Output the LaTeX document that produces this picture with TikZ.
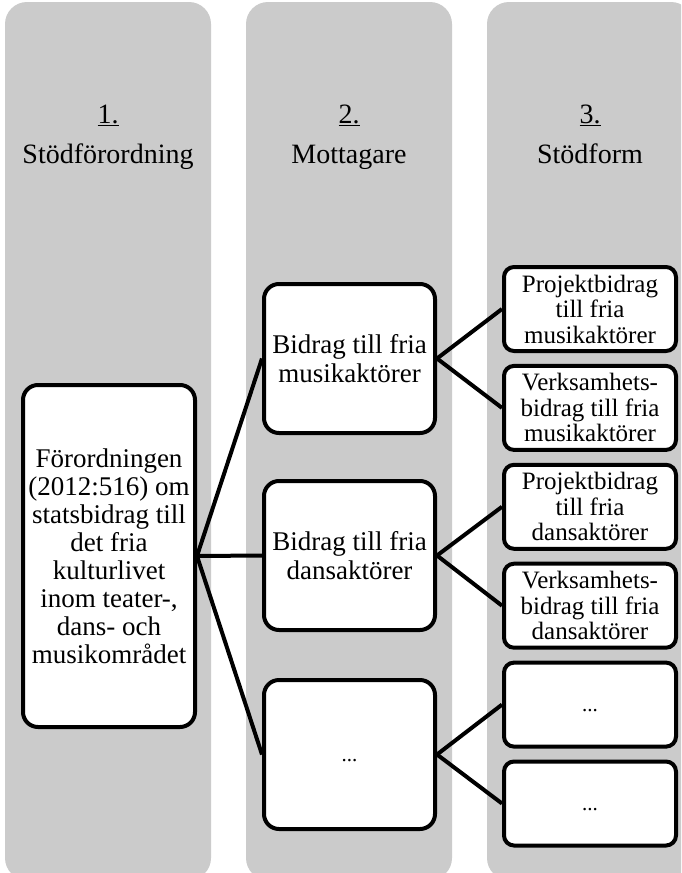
\documentclass[tikz,border=0pt]{standalone}
\usepackage{fontspec}
\setmainfont{Liberation Serif}
\definecolor{colgray}{RGB}{203,203,203}
\newcommand{\lowdots}{\raisebox{-7pt}[0pt][0pt]{\fontsize{21}{21}\selectfont ...}}
\begin{document}
\begin{tikzpicture}[x=1pt,y=-1pt,
  colbg/.style={fill=colgray, rounded corners=22pt},
  head/.style={anchor=base, inner sep=0pt, font=\fontsize{28}{30}\selectfont},
  bigbox/.style={draw, line width=4pt, fill=white, rounded corners=15pt, align=center, inner sep=0pt, font=\fontsize{27}{28}\selectfont},
  midbox/.style={draw, line width=4pt, fill=white, rounded corners=15pt, align=center, inner sep=0pt, minimum width=171pt, minimum height=149pt, font=\fontsize{27}{29}\selectfont},
  smallbox/.style={draw, line width=4pt, fill=white, rounded corners=10pt, align=center, inner sep=0pt, minimum width=172pt, minimum height=84pt, font=\fontsize{25}{25.5}\selectfont},
  conn/.style={line width=4pt}
]
\useasboundingbox (0,0) rectangle (681,873);
\begin{scope}
\clip (0,0) rectangle (681,873);
\fill[colbg] (5,2) rectangle (211,880);
\fill[colbg] (246,2) rectangle (452,880);
\fill[colbg] (487,2) rectangle (693,880);
\end{scope}

\node[head] (h1n) at (108,123) {\underline{1.}};
\node[head] (h1t) at (108,163) {Stödförordning};
\node[head] (h2n) at (349,123) {\underline{2.}};
\node[head] (h2t) at (349,163) {Mottagare};
\node[head] (h3n) at (590,123) {\underline{3.}};
\node[head] (h3t) at (590,163) {Stödform};

\node[bigbox, minimum width=172pt, minimum height=342pt] (b1) at (109,556)
  {Förordningen\\(2012:516) om\\statsbidrag till\\det fria\\kulturlivet\\inom teater-,\\dans- och\\musikområdet};

\node[midbox] (b2a) at (349.5,358.5) {Bidrag till fria\\musikaktörer};
\node[midbox] (b2b) at (349.5,555.5) {Bidrag till fria\\dansaktörer};
\node[midbox] (b2c) at (349.5,754.5) {\lowdots};

\node[smallbox] (b3a) at (590,309) {Projektbidrag\\till fria\\musikaktörer};
\node[smallbox] (b3b) at (590,407.9) {Verksamhets-\\bidrag till fria\\musikaktörer};
\node[smallbox] (b3c) at (590,506.8) {Projektbidrag\\till fria\\dansaktörer};
\node[smallbox] (b3d) at (590,605.7) {Verksamhets-\\bidrag till fria\\dansaktörer};
\node[smallbox] (b3e) at (590,704.6) {\lowdots};
\node[smallbox] (b3f) at (590,803.5) {\lowdots};

\draw[conn] (b1.east) -- (b2a.west);
\draw[conn] (b1.east) -- (b2b.west);
\draw[conn] (b1.east) -- (b2c.west);
\draw[conn] (b2a.east) -- (b3a.west);
\draw[conn] (b2a.east) -- (b3b.west);
\draw[conn] (b2b.east) -- (b3c.west);
\draw[conn] (b2b.east) -- (b3d.west);
\draw[conn] (b2c.east) -- (b3e.west);
\draw[conn] (b2c.east) -- (b3f.west);
\end{tikzpicture}
\end{document}
